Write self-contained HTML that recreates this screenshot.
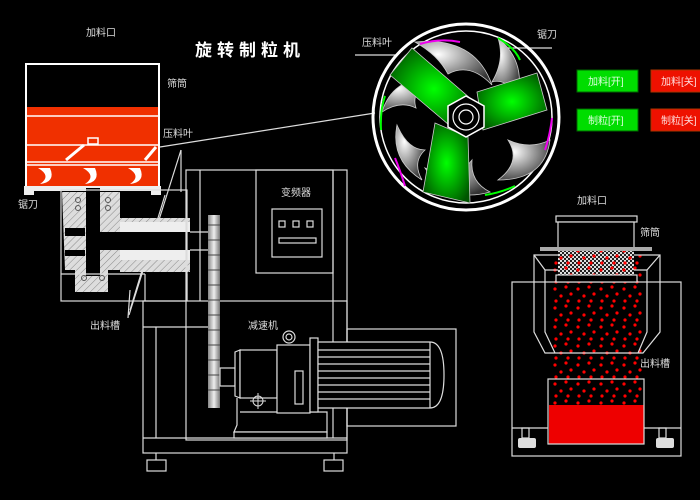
<!DOCTYPE html>
<html><head><meta charset="utf-8"><style>
html,body{margin:0;padding:0;background:#000;}
svg{display:block;}
text{font-family:"Liberation Sans","Noto Sans CJK SC",sans-serif;fill:#ddd;font-size:10px;}
</style></head><body>
<svg width="700" height="500" viewBox="0 0 700 500" xmlns="http://www.w3.org/2000/svg">
<defs>
<radialGradient id="gr" cx="0.5" cy="0.5" r="0.6"><stop offset="0" stop-color="#00ff00"/><stop offset="1" stop-color="#005500"/></radialGradient>
<radialGradient id="gy" cx="0.3" cy="0.3" r="0.8"><stop offset="0" stop-color="#fff"/><stop offset="1" stop-color="#333"/></radialGradient>
<linearGradient id="gear" x1="0" x2="1"><stop offset="0" stop-color="#888"/><stop offset="0.5" stop-color="#eee"/><stop offset="1" stop-color="#777"/></linearGradient>
<pattern id="chk" width="4" height="4" patternUnits="userSpaceOnUse"><rect width="4" height="4" fill="#222"/><rect width="2" height="2" fill="#ddd"/><rect x="2" y="2" width="2" height="2" fill="#ddd"/></pattern>
<pattern id="dots" width="23" height="19" patternUnits="userSpaceOnUse"><circle cx="3" cy="4" r="1.6" fill="#f00"/><circle cx="14" cy="2" r="1.6" fill="#f00"/><circle cx="9" cy="11" r="1.6" fill="#f00"/><circle cx="19" cy="9" r="1.6" fill="#f00"/><circle cx="4" cy="16" r="1.6" fill="#f00"/><circle cx="16" cy="16" r="1.6" fill="#f00"/></pattern>
<pattern id="hatch" width="5" height="5" patternUnits="userSpaceOnUse" patternTransform="rotate(45)"><rect width="5" height="5" fill="#ddd"/><line x1="0" y1="0" x2="0" y2="5" stroke="#888" stroke-width="1"/></pattern>
</defs>

<text x="195" y="56" style="font-size:17px;font-weight:bold;fill:#fff;letter-spacing:5px">旋转制粒机</text>
<text x="86" y="36">加料口</text>
<text x="167" y="87">筛筒</text>
<text x="163" y="137">压料叶</text>
<text x="18" y="208">锯刀</text>
<text x="90" y="329">出料槽</text>
<text x="248" y="329">减速机</text>
<text x="281" y="196">变频器</text>

<rect x="26" y="64" width="133" height="124" fill="none" stroke="#fff" stroke-width="2"/>
<rect x="27" y="107" width="131" height="79" fill="#f03000"/>
<g stroke="#fff" stroke-width="1.5"><line x1="27" y1="116" x2="158" y2="116"/><line x1="27" y1="145" x2="158" y2="145"/><line x1="27" y1="162" x2="158" y2="162"/><line x1="27" y1="165" x2="158" y2="165"/></g>
<g stroke="#fff" stroke-width="3"><line x1="66" y1="160" x2="84" y2="145"/><line x1="145" y1="160" x2="156" y2="147"/></g>
<rect x="88" y="138" width="10" height="6" fill="none" stroke="#fff" stroke-width="1.5"/>
<g fill="#fff"><path d="M38,168 Q52,176 40,184 Q56,182 50,168 Z"/><path d="M83,168 Q97,176 85,184 Q101,182 95,168 Z"/><path d="M128,168 Q142,176 130,184 Q146,182 140,168 Z"/></g>
<rect x="24" y="186" width="137" height="9" fill="#eee"/>
<rect x="34" y="191" width="117" height="4" fill="#000"/>

<g stroke="#ddd" stroke-width="1.2" fill="none">
<line x1="160" y1="147" x2="375" y2="113"/>
<line x1="181" y1="150" x2="181" y2="192"/>
<line x1="181" y1="150" x2="129" y2="315"/>
<line x1="165" y1="195" x2="130" y2="310"/>
<line x1="130" y1="290" x2="128" y2="318"/>
</g>

<path d="M62,192 H120 V218 H190 V272 H120 V270 H108 V292 H75 V270 H65 Z" fill="url(#hatch)"/>
<rect x="86" y="188" width="14" height="88" fill="#000"/>
<rect x="100" y="232" width="100" height="18" fill="#000"/>
<rect x="120" y="222" width="70" height="10" fill="#eee"/>
<rect x="120" y="250" width="70" height="10" fill="#eee"/>
<rect x="65" y="228" width="20" height="8" fill="#000"/>
<rect x="65" y="250" width="20" height="6" fill="#000"/>
<g fill="none" stroke="#555"><circle cx="78" cy="200" r="2.5"/><circle cx="78" cy="208" r="2.5"/><circle cx="108" cy="200" r="2.5"/><circle cx="108" cy="208" r="2.5"/><circle cx="84" cy="278" r="2.5"/><circle cx="102" cy="278" r="2.5"/></g>
<g fill="none" stroke="#ddd" stroke-width="1.2">
<rect x="61" y="190" width="126" height="111"/>
<line x1="61" y1="274" x2="145" y2="274"/>
<line x1="145" y1="274" x2="145" y2="301"/>
<line x1="187" y1="274" x2="187" y2="301"/>
<line x1="190" y1="232" x2="208" y2="232"/>
<line x1="190" y1="250" x2="208" y2="250"/>
</g>

<g fill="none" stroke="#ddd" stroke-width="1.2">
<rect x="186" y="170" width="161" height="270"/>
<line x1="200" y1="170" x2="200" y2="301"/>
<rect x="256" y="170" width="77" height="103"/>
<line x1="333" y1="170" x2="333" y2="438"/>
<rect x="272" y="209" width="50" height="48"/>
<rect x="279" y="221" width="6" height="6"/><rect x="293" y="221" width="6" height="6"/><rect x="307" y="221" width="6" height="6"/>
<rect x="279" y="238" width="37" height="5"/>
<rect x="143" y="301" width="204" height="152"/>
<line x1="143" y1="438" x2="347" y2="438"/>
<line x1="156" y1="327" x2="156" y2="438"/>
<line x1="143" y1="327" x2="208" y2="327"/>
<line x1="156" y1="453" x2="156" y2="460"/><rect x="147" y="460" width="19" height="11"/>
<line x1="334" y1="453" x2="334" y2="460"/><rect x="324" y="460" width="19" height="11"/>
<rect x="347" y="329" width="109" height="97"/>
</g>
<rect x="208" y="215" width="12" height="193" fill="url(#gear)"/>
<g stroke="#444" stroke-width="1"><line x1="208" y1="225" x2="220" y2="225"/><line x1="208" y1="240" x2="220" y2="240"/><line x1="208" y1="255" x2="220" y2="255"/><line x1="208" y1="270" x2="220" y2="270"/><line x1="208" y1="285" x2="220" y2="285"/><line x1="208" y1="300" x2="220" y2="300"/><line x1="208" y1="315" x2="220" y2="315"/><line x1="208" y1="330" x2="220" y2="330"/><line x1="208" y1="345" x2="220" y2="345"/><line x1="208" y1="360" x2="220" y2="360"/><line x1="208" y1="375" x2="220" y2="375"/><line x1="208" y1="390" x2="220" y2="390"/></g>

<g fill="#000" stroke="#ddd" stroke-width="1.2">
<rect x="220" y="368" width="15" height="18"/>
<path d="M235,352 L240,350 V398 L235,396 Z"/>
<rect x="240" y="350" width="37" height="48"/>
<path d="M237,398 V425 L234,432 H327 V412 H240"/>
<rect x="234" y="432" width="93" height="6"/>
<rect x="277" y="345" width="33" height="68"/>
<circle cx="289" cy="337" r="6"/><circle cx="289" cy="337" r="3"/>
<rect x="295" y="371" width="8" height="33"/>
<rect x="310" y="338" width="8" height="74"/>
<path d="M318,342 H430 Q444,342 444,375 Q444,408 430,408 H318 Z"/>
</g>
<g stroke="#ddd" stroke-width="1.2"><line x1="318" y1="350" x2="430" y2="350"/><line x1="318" y1="357" x2="430" y2="357"/><line x1="318" y1="364" x2="430" y2="364"/><line x1="318" y1="371" x2="430" y2="371"/><line x1="318" y1="378" x2="430" y2="378"/><line x1="318" y1="385" x2="430" y2="385"/><line x1="318" y1="392" x2="430" y2="392"/><line x1="318" y1="399" x2="430" y2="399"/><line x1="430" y1="342" x2="430" y2="408"/></g>
<g fill="none" stroke="#ddd" stroke-width="1"><circle cx="258" cy="401" r="5"/><line x1="250" y1="401" x2="266" y2="401"/><line x1="258" y1="393" x2="258" y2="409"/></g>

<text x="362" y="46">压料叶</text>
<text x="537" y="38">锯刀</text>
<g stroke="#ddd" stroke-width="1.2"><line x1="355" y1="55" x2="397" y2="55"/><line x1="500" y1="48" x2="552" y2="48"/></g>
<circle cx="466" cy="117" r="93" fill="none" stroke="#fff" stroke-width="3"/>
<circle cx="466" cy="117" r="86" fill="none" stroke="#fff" stroke-width="1.5"/>
<g fill="url(#gy)" stroke="#ccc" stroke-width="0.8">
<path d="M415,42 Q475,36 492,85 Q470,62 448,74 Q438,55 415,42Z"/>
<path d="M498,38 Q525,60 518,95 Q505,78 492,82 Q505,60 498,38Z"/>
<path d="M550,140 Q545,180 498,180 Q522,162 508,140 Q530,150 550,140Z"/>
<path d="M490,192 Q448,204 425,168 Q455,182 472,160 Q470,182 490,192Z"/>
<path d="M422,180 Q390,160 397,125 Q408,150 425,150 Q412,162 422,180Z"/>
<path d="M382,112 Q393,76 435,78 Q410,90 416,108 Q400,100 382,112Z"/>
</g>
<polygon points="390,75 412,48 478,105 455,130" fill="url(#gr)" stroke="#ccc" stroke-width="0.8"/>
<polygon points="477,92 537,73 547,110 483,130" fill="url(#gr)" stroke="#ccc" stroke-width="0.8"/>
<polygon points="435,123 468,137 470,203 423,192" fill="url(#gr)" stroke="#ccc" stroke-width="0.8"/>
<polygon points="466,96 484,106 484,127 466,137 448,127 448,106" fill="#000" stroke="#fff" stroke-width="1.5"/>
<circle cx="466" cy="117" r="13" fill="none" stroke="#fff" stroke-width="1.2"/>
<circle cx="466" cy="117" r="7" fill="none" stroke="#fff" stroke-width="1.2"/>
<g fill="none" stroke-width="2"><path d="M420,44 Q440,38 460,42" stroke="#e0e"/><path d="M498,38 Q515,48 520,60" stroke="#0f0"/><path d="M552,118 Q550,135 545,150" stroke="#e0e"/><path d="M515,186 Q500,193 485,195" stroke="#0f0"/><path d="M405,186 Q400,170 395,158" stroke="#e0e"/><path d="M381,130 Q380,110 385,96" stroke="#0f0"/></g>

<g font-size="10">
<rect x="577" y="70" width="61" height="22" fill="#00dd00" stroke="#060"/>
<text x="588" y="85" style="fill:#dfd">加料[开]</text>
<rect x="651" y="70" width="55" height="22" fill="#ee1100" stroke="#a30"/>
<text x="661" y="85" style="fill:#fdd">加料[关]</text>
<rect x="577" y="109" width="61" height="22" fill="#00dd00" stroke="#060"/>
<text x="588" y="124" style="fill:#dfd">制粒[开]</text>
<rect x="651" y="109" width="55" height="22" fill="#ee1100" stroke="#a30"/>
<text x="661" y="124" style="fill:#fdd">制粒[关]</text>
</g>

<text x="577" y="204">加料口</text>
<text x="640" y="236">筛筒</text>
<text x="640" y="367">出料槽</text>
<rect x="550" y="255" width="93" height="150" fill="url(#dots)"/>
<rect x="549" y="405" width="95" height="39" fill="#ee0000"/>
<g fill="none" stroke="#ddd" stroke-width="1.2">
<rect x="512" y="282" width="169" height="174"/>
<path d="M534,255 H660 V332 L643,353 H545 L534,332 Z" fill="none"/>
<path d="M534,255 L545,270 V332 L555,353"/>
<path d="M660,255 L647,270 V332 L638,353"/>
<line x1="545" y1="270" x2="647" y2="270"/>
<line x1="512" y1="428" x2="548" y2="428"/><line x1="644" y1="428" x2="681" y2="428"/>
<rect x="548" y="379" width="96" height="65"/>
<rect x="522" y="428" width="7" height="10"/><rect x="659" y="428" width="7" height="10"/>
</g>
<rect x="518" y="438" width="18" height="10" rx="2" fill="#ddd"/>
<rect x="656" y="438" width="18" height="10" rx="2" fill="#ddd"/>
<rect x="558" y="251" width="76" height="24" fill="url(#chk)"/>
<rect x="558" y="251" width="76" height="24" fill="url(#dots)"/>
<g fill="#000" stroke="#ddd" stroke-width="1.2">
<rect x="556" y="216" width="81" height="6"/>
<rect x="558" y="222" width="76" height="26"/>
<rect x="556" y="275" width="81" height="7"/>
</g>
<rect x="540" y="247" width="112" height="4" fill="#aaa"/>
</svg>
</body></html>
